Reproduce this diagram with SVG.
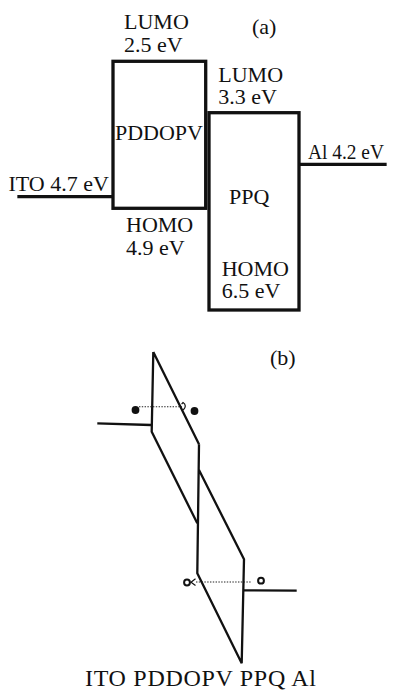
<svg xmlns="http://www.w3.org/2000/svg" width="400" height="691" viewBox="0 0 400 691">
<style>
text{font-family:"Liberation Serif","Times New Roman",serif;font-size:22px;fill:#111}
.thick{fill:none;stroke:#111;stroke-width:3.3;stroke-linecap:square}
.thin{fill:none;stroke:#111;stroke-width:2.3;stroke-linejoin:miter}
.dot{fill:none;stroke:#222;stroke-width:1.1;stroke-dasharray:1.4 1.4}
</style>
<rect width="400" height="691" fill="#fff"/>
<g id="part-a">
<text x="252" y="33.5">(a)</text>
<g id="pddopv">
<rect class="thick" x="113" y="61.3" width="92.7" height="147"/>
<text x="115" y="140" textLength="88">PDDOPV</text>
<text x="124" y="29">LUMO</text>
<text x="124" y="52">2.5 eV</text>
<text x="126" y="231.5">HOMO</text>
<text x="126" y="254.5">4.9 eV</text>
</g>
<g id="ppq">
<rect class="thick" x="209" y="112.7" width="90" height="197.3"/>
<text x="229" y="204.3">PPQ</text>
<text x="218.3" y="81.5">LUMO</text>
<text x="218.3" y="104">3.3 eV</text>
<text x="221.7" y="275.5">HOMO</text>
<text x="221.7" y="298">6.5 eV</text>
</g>
<g id="ito">
<text x="8.5" y="190.7">ITO 4.7 eV</text>
</g>
<g id="al">
<text x="308" y="159.3" textLength="76" lengthAdjust="spacingAndGlyphs">Al  4.2 eV</text>
</g>
<g id="connectors-a">
<line class="thick" x1="19" y1="196.7" x2="111" y2="196.7"/>
<line class="thick" x1="301" y1="164.3" x2="385" y2="164.3"/>
</g>
</g>
<g id="part-b">
<text x="270" y="365">(b)</text>
<g id="band-pddopv">
<path class="thin" d="M153.3,352 L151.7,431.7 L197.3,523.3 M153.3,352 L199,444.3"/>
</g>
<g id="band-ppq">
<path class="thin" d="M199,444.3 L197.3,573.3 L241.7,663.3 L244,559.3 L199,470"/>
</g>
<g id="electrodes-b">
<line class="thin" x1="97.3" y1="423.3" x2="151" y2="425"/>
<line class="thin" x1="244" y1="590.3" x2="296.7" y2="590.7"/>
</g>
<g id="carriers">
<circle cx="135.5" cy="410" r="3.9" fill="#111"/>
<circle cx="194.5" cy="411" r="3.9" fill="#111"/>
<line class="dot" x1="139" y1="406.8" x2="182" y2="406.8"/>
<path d="M181.6,404.2 L183,402.6 Q187.5,405.5 183.2,410" fill="none" stroke="#111" stroke-width="1.2"/>
<circle cx="187" cy="582.5" r="2.9" fill="none" stroke="#111" stroke-width="2"/>
<circle cx="261" cy="580.7" r="2.9" fill="none" stroke="#111" stroke-width="2"/>
<path d="M195.5,578.8 L191,582.2 L195.5,585.4" fill="none" stroke="#111" stroke-width="1.2"/>
<line class="dot" x1="196" y1="582" x2="251" y2="582"/>
</g>
<text x="85" y="686" style="font-size:24px" textLength="231">ITO PDDOPV PPQ Al</text>
</g>
</svg>
